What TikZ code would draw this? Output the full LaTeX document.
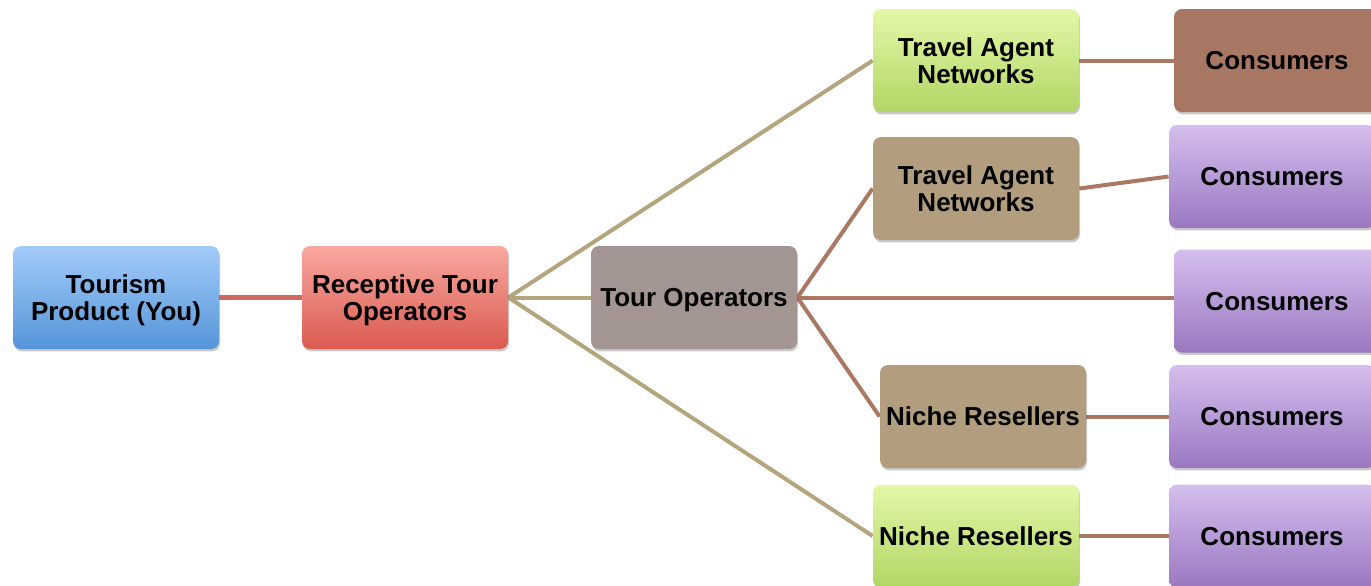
\documentclass[tikz,border=0pt]{standalone}
\usepackage{fontspec}
\setmainfont{Liberation Sans}
\usetikzlibrary{shadows,backgrounds}

\definecolor{blueTop}{HTML}{A3CBF9}
\definecolor{blueBot}{HTML}{5595D8}
\definecolor{redTop}{HTML}{F9A9A1}
\definecolor{redBot}{HTML}{DA5A4F}
\definecolor{greenTop}{HTML}{E3F8A8}
\definecolor{greenBot}{HTML}{B1D665}
\definecolor{purpTop}{HTML}{D4BEEE}
\definecolor{purpBot}{HTML}{9A78C0}
\definecolor{mauve}{HTML}{A39592}
\definecolor{tan}{HTML}{B29E7E}
\definecolor{brownbox}{HTML}{A87763}
\definecolor{redline}{HTML}{D0685F}
\definecolor{tanline}{HTML}{B5A57F}
\definecolor{brownline}{HTML}{AA7863}

\begin{document}
\begin{tikzpicture}[x=0.5pt,y=-0.5pt,
  box/.style={rounded corners=4pt, minimum width=103pt, minimum height=51.5pt,
    align=center, inner sep=1pt, text depth=0pt, font=\fontsize{13}{13.5}\selectfont\bfseries,
    drop shadow={shadow xshift=0.5pt, shadow yshift=-1.2pt, opacity=0.3, fill=black!70}},
  bluebox/.style={box, top color=blueTop, bottom color=blueBot},
  redbox/.style={box, top color=redTop, bottom color=redBot},
  greenbox/.style={box, top color=greenTop, bottom color=greenBot},
  purplebox/.style={box, top color=purpTop, bottom color=purpBot},
  mauvebox/.style={box, fill=mauve},
  tanbox/.style={box, fill=tan},
  brownbox/.style={box, fill=brownbox},
  redlink/.style={draw=redline, line width=2.5pt},
  tanlink/.style={draw=tanline, line width=2pt},
  brownlink/.style={draw=brownline, line width=2pt}]
\useasboundingbox (0,0) rectangle (1371,585);

% first column
\node[bluebox] (product) at (116,297.5) {Tourism\\Product (You)};
\node[redbox] (receptive) at (405,297.5) {Receptive Tour\\Operators};
\node[mauvebox] (tourops) at (694,297.5) {Tour Operators};

% resellers
\node[greenbox] (agentsA) at (976,60.5) {Travel Agent\\Networks};
\node[tanbox] (agentsB) at (976,188.5) {Travel Agent\\Networks};
\node[tanbox] (nicheA) at (983,416.5) {Niche Resellers};
\node[greenbox] (nicheB) at (976,536) {Niche Resellers};

% consumers
\node[brownbox] (consA) at (1277,60.5) {Consumers};
\node[purplebox] (consB) at (1272,176.5) {Consumers};
\node[purplebox] (consC) at (1277,301) {Consumers};
\node[purplebox] (consD) at (1272,416.5) {Consumers};
\node[purplebox] (consE) at (1272,536) {Consumers};

\begin{scope}[on background layer]
\draw[redlink] (product.east) -- (receptive.west);
\draw[tanlink] (receptive.east) -- (agentsA.west);
\draw[tanlink] (receptive.east) -- (tourops.west);
\draw[tanlink] (receptive.east) -- (nicheB.west);
\draw[brownlink] (tourops.east) -- (agentsB.west);
\draw[brownlink] (tourops.east) -- (consC.west |- tourops.east);
\draw[brownlink] (tourops.east) -- (nicheA.west);
\draw[brownlink] (agentsA.east) -- (consA.west);
\draw[brownlink] (agentsB.east) -- (consB.west);
\draw[brownlink] (nicheA.east) -- (consD.west);
\draw[brownlink] (nicheB.east) -- (consE.west);
\end{scope}
\end{tikzpicture}
\end{document}
